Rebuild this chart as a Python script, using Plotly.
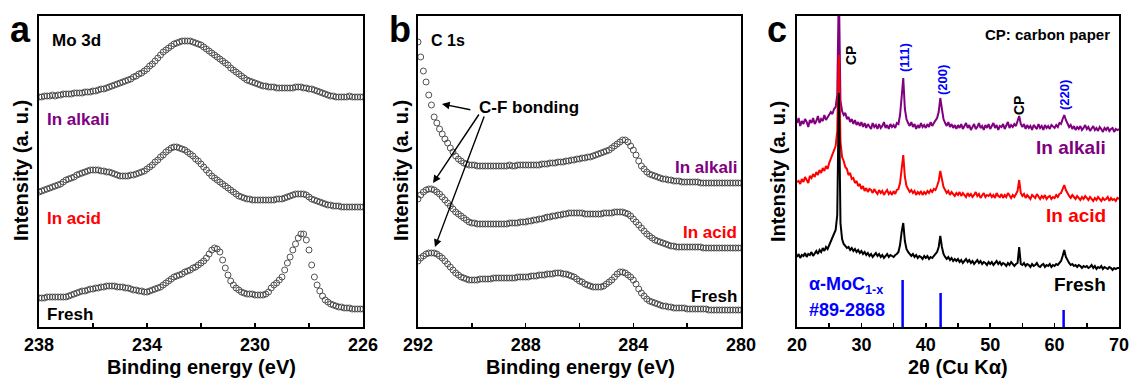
import plotly.graph_objects as go

# ---------------- data ----------------
# Panel a: Mo 3d XPS, binding energy 238 -> 226 eV, step 0.1 eV
be_mo = [round(238.0 - 0.1 * i, 1) for i in range(121)]
mo_alkali = [
    230, 230, 231, 231, 231, 232, 231, 232, 232, 233,
    233, 233, 233, 234, 234, 234, 234, 235, 235, 235,
    236, 236, 237, 238, 238, 239, 240, 241, 242, 243,
    244, 245, 246, 247, 248, 250, 251, 253, 254, 256,
    258, 261, 263, 266, 269, 272, 275, 277, 279, 281,
    283, 284, 285, 286, 286, 286, 286, 285, 284, 283,
    282, 280, 278, 276, 274, 272, 270, 268, 266, 264,
    262, 259, 257, 255, 253, 251, 249, 247, 246, 245,
    244, 243, 242, 241, 241, 240, 240, 240, 239, 239,
    239, 239, 239, 239, 239, 240, 240, 240, 239, 239,
    238, 238, 237, 236, 235, 234, 233, 232, 231, 231,
    230, 230, 230, 230, 230, 231, 230, 230, 230, 230,
    230]
mo_acid = [
    135, 136, 137, 138, 139, 140, 141, 142, 143, 145,
    147, 148, 149, 150, 152, 153, 154, 155, 156, 157,
    157, 157, 157, 156, 156, 155, 155, 154, 153, 152,
    151, 151, 151, 151, 152, 152, 153, 154, 155, 156,
    158, 160, 162, 165, 167, 170, 172, 175, 177, 179,
    180, 180, 179, 178, 177, 175, 173, 171, 168, 166,
    163, 160, 157, 154, 151, 149, 147, 145, 143, 141,
    139, 137, 135, 133, 131, 130, 129, 128, 128, 127,
    127, 127, 127, 127, 127, 127, 127, 127, 128, 128,
    128, 129, 130, 131, 132, 133, 133, 133, 133, 132,
    130, 128, 127, 126, 125, 124, 123, 122, 122, 121,
    121, 121, 120, 120, 120, 120, 120, 120, 120, 120,
    120]
mo_fresh = [
    29, 29, 29, 30, 30, 30, 30, 30, 30, 30,
    30, 31, 32, 33, 34, 35, 36, 36, 37, 38,
    38, 39, 39, 40, 40, 41, 41, 41, 41, 40,
    40, 40, 39, 39, 38, 37, 37, 36, 36, 35,
    35, 36, 37, 38, 39, 40, 42, 44, 46, 48,
    50, 51, 52, 53, 55, 56, 57, 59, 60, 62,
    64, 66, 69, 73, 77, 79, 78, 75, 67, 59,
    52, 46, 42, 39, 37, 35, 34, 33, 33, 33,
    32, 32, 32, 32, 33, 35, 39, 42, 44, 47,
    50, 57, 64, 70, 77, 83, 89, 93, 93, 87,
    77, 62, 50, 42, 36, 31, 27, 25, 23, 22,
    21, 20, 20, 19, 19, 19, 18, 18, 18, 18,
    18]

# Panel b: C 1s XPS, binding energy 292 -> 280 eV, step 0.1 eV
be_c = [round(292.0 - 0.1 * i, 1) for i in range(121)]
c_alkali = [
    285, 270, 256, 245, 232, 222, 210, 204, 198, 193,
    188, 184, 179, 175, 171, 168, 166, 164, 163, 162,
    162, 162, 161, 161, 161, 161, 161, 161, 161, 161,
    161, 161, 161, 161, 162, 161, 161, 162, 162, 162,
    162, 162, 162, 162, 162, 162, 163, 163, 163, 164,
    164, 164, 165, 165, 165, 166, 166, 167, 167, 168,
    168, 169, 169, 170, 170, 171, 172, 173, 174, 175,
    176, 177, 179, 181, 183, 185, 187, 187, 185, 181,
    177, 172, 166, 161, 158, 155, 153, 152, 151, 150,
    149, 148, 148, 147, 147, 146, 146, 146, 145, 145,
    145, 145, 145, 145, 145, 144, 144, 144, 144, 144,
    144, 144, 144, 144, 144, 144, 144, 144, 144, 144,
    144]
c_acid = [
    128, 132, 135, 137, 138, 138, 137, 135, 133, 130,
    127, 124, 121, 118, 115, 113, 111, 109, 107, 105,
    104, 104, 103, 103, 103, 103, 103, 103, 103, 103,
    103, 103, 103, 103, 104, 104, 104, 104, 105, 105,
    105, 106, 106, 107, 107, 108, 108, 109, 110, 110,
    111, 111, 112, 112, 113, 113, 114, 114, 114, 114,
    114, 114, 113, 113, 113, 113, 113, 113, 113, 114,
    114, 114, 114, 115, 115, 115, 115, 114, 113, 111,
    108, 105, 102, 99, 96, 93, 91, 89, 87, 86,
    85, 84, 83, 82, 81, 81, 80, 80, 80, 80,
    80, 80, 80, 80, 80, 80, 79, 79, 79, 79,
    79, 79, 79, 79, 79, 79, 79, 79, 79, 79,
    79]
c_fresh = [
    66, 69, 71, 73, 74, 74, 74, 73, 71, 69,
    66, 63, 60, 57, 54, 52, 50, 49, 48, 47,
    47, 47, 47, 48, 48, 48, 48, 48, 49, 49,
    49, 49, 49, 49, 49, 49, 49, 50, 50, 50,
    50, 50, 51, 51, 51, 52, 52, 52, 53, 53,
    53, 54, 54, 54, 53, 53, 52, 51, 50, 48,
    46, 45, 43, 42, 41, 40, 40, 40, 40, 41,
    43, 45, 47, 50, 53, 55, 55, 54, 52, 50,
    47, 43, 38, 34, 31, 28, 26, 25, 24, 23,
    22, 21, 21, 20, 20, 19, 19, 19, 19, 19,
    18, 18, 18, 18, 18, 18, 18, 18, 17, 17,
    17, 17, 17, 17, 17, 17, 17, 17, 17, 17,
    17]

# Panel c: XRD, 2theta 20 -> 70 deg, step 0.25 deg
two_theta = [20.0 + 0.25 * i for i in range(201)]
xrd_alkali = [
    204, 209, 201, 206, 203, 208, 205, 200, 207, 204, 209, 203, 206, 211, 204, 208, 206, 212, 207, 210,
    212, 215, 213, 218, 220, 232, 340, 226, 216, 212, 214, 208, 210, 205, 208, 203, 207, 202, 205, 201,
    205, 200, 204, 199, 203, 201, 198, 204, 200, 202, 198, 203, 199, 201, 205, 199, 202, 198, 203, 200,
    202, 199, 204, 203, 212, 230, 249, 218, 208, 204, 201, 205, 200, 203, 198, 202, 199, 204, 200, 202,
    199, 203, 200, 205, 201, 204, 206, 209, 215, 229, 218, 208, 204, 201, 205, 200, 203, 199, 202, 198,
    202, 199, 203, 198, 201, 204, 199, 202, 197, 201, 203, 198, 200, 204, 199, 201, 197, 202, 199, 203,
    198, 201, 204, 199, 202, 197, 201, 200, 203, 198, 201, 205, 199, 202, 200, 203, 201, 205, 211, 203,
    200, 203, 198, 202, 199, 201, 197, 202, 200, 198, 203, 199, 201, 197, 202, 199, 201, 198, 202, 200,
    199, 202, 200, 204, 203, 208, 212, 207, 204, 200, 202, 198, 201, 197, 200, 198, 201, 197, 199, 202,
    198, 200, 196, 199, 201, 197, 199, 196, 200, 198, 195, 199, 197, 200, 196, 198, 199, 195, 198, 197,
    198]
xrd_acid = [
    145, 146, 143, 148, 145, 150, 147, 144, 151, 149, 153, 150, 155, 152, 157, 154, 159, 156, 161, 158,
    164, 168, 172, 176, 181, 196, 272, 185, 170, 166, 160, 158, 152, 154, 148, 149, 144, 146, 141, 143,
    138, 141, 136, 139, 135, 138, 137, 134, 138, 135, 133, 137, 134, 136, 132, 135, 137, 133, 135, 132,
    136, 133, 137, 138, 144, 158, 172, 150, 141, 138, 135, 137, 134, 136, 132, 135, 133, 136, 132, 135,
    133, 136, 134, 137, 135, 138, 137, 141, 146, 156, 147, 140, 137, 134, 136, 132, 135, 133, 131, 134,
    132, 135, 131, 134, 132, 130, 134, 131, 133, 130, 132, 135, 131, 133, 129, 132, 134, 130, 132, 131,
    133, 130, 132, 129, 134, 131, 130, 133, 129, 132, 130, 134, 131, 129, 132, 130, 133, 136, 147, 134,
    131, 133, 129, 132, 130, 128, 132, 130, 129, 133, 130, 128, 131, 129, 132, 128, 130, 131, 128, 130,
    129, 132, 130, 133, 134, 138, 142, 137, 133, 131, 129, 132, 130, 128, 131, 129, 127, 130, 128, 131,
    129, 127, 130, 128, 126, 129, 127, 130, 128, 126, 129, 127, 128, 130, 126, 129, 127, 128, 126, 129,
    128]
xrd_fresh = [
    70, 73, 69, 72, 71, 74, 70, 73, 72, 75, 71, 74, 76, 73, 77, 75, 79, 76, 80, 78,
    82, 85, 88, 92, 97, 112, 234, 104, 88, 83, 81, 79, 80, 77, 79, 76, 78, 75, 77, 74,
    76, 73, 75, 72, 74, 71, 73, 70, 72, 74, 71, 73, 70, 72, 69, 71, 73, 70, 72, 71,
    70, 72, 73, 75, 82, 95, 104, 86, 78, 75, 73, 71, 73, 70, 72, 69, 71, 70, 68, 71,
    69, 71, 68, 70, 69, 71, 72, 75, 80, 91, 80, 73, 70, 68, 70, 67, 69, 66, 68, 66,
    68, 65, 67, 64, 66, 68, 65, 67, 64, 66, 63, 65, 67, 64, 66, 63, 65, 64, 62, 65,
    63, 65, 62, 64, 66, 63, 65, 62, 64, 63, 61, 64, 62, 65, 63, 61, 63, 64, 80, 63,
    62, 64, 61, 63, 62, 60, 63, 61, 62, 64, 61, 60, 62, 63, 60, 62, 61, 63, 60, 62,
    61, 63, 62, 64, 66, 71, 77, 70, 66, 64, 62, 63, 61, 62, 60, 62, 61, 59, 61, 60,
    61, 59, 60, 62, 59, 61, 58, 60, 59, 61, 58, 60, 59, 58, 60, 59, 57, 59, 58, 59,
    59]

# alpha-MoC1-x reference pattern (#89-2868)
ref_pos = [36.4, 42.3, 61.4]
ref_int = [47, 34, 17]

mo_ticks = [238, 234, 230, 226]
mo_minor = [236, 232, 228]
c_ticks = [292, 288, 284, 280]
c_minor = [290, 286, 282]
xrd_ticks = [20, 30, 40, 50, 60, 70]
xrd_minor = [25, 35, 45, 55, 65]

# ---------------- figure ----------------
W, H = 1133, 381
FONT = "Liberation Sans, Arial, sans-serif"
PURPLE = "#800080"
RED = "#ff0000"
BLUE = "#0000ff"
MK = "#404040"

def fit(x, y):
    n = min(len(x), len(y))
    return x[:n], y[:n]

fig = go.Figure()

def xps(x, y, xa, ya):
    x, y = fit(x, y)
    fig.add_trace(go.Scatter(x=x, y=y, mode="markers", xaxis=xa, yaxis=ya,
                             marker=dict(symbol="circle-open", size=6, color=MK,
                                         line=dict(width=0.9, color=MK)),
                             showlegend=False, hoverinfo="skip"))

for ys in (mo_alkali, mo_acid, mo_fresh):
    xps(be_mo, ys, "x", "y")
for ys in (c_alkali, c_acid, c_fresh):
    xps(be_c, ys, "x2", "y2")

for ys, col in ((xrd_alkali, PURPLE), (xrd_acid, RED), (xrd_fresh, "black")):
    x, y = fit(two_theta, ys)
    fig.add_trace(go.Scatter(x=x, y=y, mode="lines", xaxis="x3", yaxis="y3",
                             line=dict(color=col, width=2.0), showlegend=False,
                             hoverinfo="skip"))

# reference sticks
sx, sy = [], []
for p, h in zip(ref_pos, ref_int):
    sx += [p, p, None]
    sy += [0, h, None]
fig.add_trace(go.Scatter(x=sx, y=sy, mode="lines", xaxis="x3", yaxis="y3",
                         line=dict(color=BLUE, width=2.5), showlegend=False,
                         hoverinfo="skip"))

doms = [(39, 363), (418, 741), (797, 1119)]
ydom = [1 - 327 / H, 1 - 16 / H]

axis_common = dict(showline=True, linewidth=2, linecolor="black", mirror=True,
                   showgrid=False, zeroline=False, automargin=False)
tickfont = dict(family=FONT, size=18, color="black", weight="bold")

xcfg = [
    dict(range=[238, 226], tickvals=mo_ticks, minor=dict(tickvals=mo_minor, ticks="inside",
                                                          ticklen=4, tickwidth=1.5, tickcolor="black", showgrid=False)),
    dict(range=[292, 280], tickvals=c_ticks, minor=dict(tickvals=c_minor, ticks="inside",
                                                         ticklen=4, tickwidth=1.5, tickcolor="black", showgrid=False)),
    dict(range=[20, 70], tickvals=xrd_ticks, minor=dict(tickvals=xrd_minor, ticks="inside",
                                                         ticklen=4, tickwidth=1.5, tickcolor="black", showgrid=False)),
]
layout = {}
for i, (d, xc) in enumerate(zip(doms, xcfg)):
    sfx = "" if i == 0 else str(i + 1)
    layout["xaxis" + sfx] = dict(domain=[d[0] / W, d[1] / W], anchor="y" + sfx,
                                 ticks="inside", ticklen=4, tickwidth=1.5, tickcolor="black",
                                 tickmode="array", tickfont=tickfont, **axis_common, **xc)
    layout["yaxis" + sfx] = dict(domain=ydom, anchor="x" + sfx, range=[0, 311],
                                 showticklabels=False, ticks="", **axis_common)

fig.update_layout(template="none", width=W, height=H,
                  margin=dict(l=0, r=0, t=0, b=0, pad=0, autoexpand=False), autosize=False,
                  paper_bgcolor="white", plot_bgcolor="white", showlegend=False, **layout)

anns = []

def ann(text, px, py, size, color="black", xanchor="center", angle=0):
    anns.append(dict(text=text, x=px / W, y=1 - py / H, xref="paper", yref="paper",
                     xanchor=xanchor, yanchor="middle", showarrow=False, textangle=angle,
                     font=dict(family=FONT, size=size, color=color, weight="bold")))

# panel letters
ann("a", 20, 30, 36)
ann("b", 400, 29, 36)
ann("c", 777, 30, 36)
# axis titles
for cx in (201, 580):
    ann("Binding energy (eV)", cx, 367, 20)
ann("2θ (Cu Kα)", 958, 367, 20)
for cx in (21, 401, 778):
    ann("Intensity (a. u.)", cx, 171, 20, angle=-90)
# panel a
ann("Mo 3d", 50, 41, 17, xanchor="left")
ann("In alkali", 45, 119, 17, PURPLE, xanchor="left")
ann("In acid", 45, 218, 17, RED, xanchor="left")
ann("Fresh", 45, 314, 17, xanchor="left")
# panel b
ann("C 1s", 429, 41, 16, xanchor="left")
ann("In alkali", 739, 167, 17, PURPLE, xanchor="right")
ann("In acid", 739, 233, 17, RED, xanchor="right")
ann("Fresh", 739, 296, 17, xanchor="right")
ann("C-F bonding", 477, 108, 17, xanchor="left")
# panel c
ann("CP: carbon paper", 1112, 35, 15, xanchor="right")
ann("In alkali", 1108, 147, 19, PURPLE, xanchor="right")
ann("In acid", 1108, 215, 19, RED, xanchor="right")
ann("Fresh", 1108, 284, 19, xanchor="right")
ann("α-MoC<sub>1-x</sub>", 807, 285, 18, BLUE, xanchor="left")
ann("#89-2868", 807, 310, 18, BLUE, xanchor="left")
ann("CP", 851, 56, 14, angle=-90)
ann("(111)", 904, 58, 13, BLUE, angle=-90)
ann("(200)", 942, 80, 13, BLUE, angle=-90)
ann("CP", 1019, 106, 14, angle=-90)
ann("(220)", 1064, 95, 13, BLUE, angle=-90)

# C-F bonding arrows (axis coordinates of panel b)
arrows = [((290.0, 217), (291.11, 223)),
          ((289.70, 214), (291.44, 144)),
          ((289.52, 212), (291.37, 80))]
for (tx, ty), (hx, hy) in arrows:
    anns.append(dict(x=hx, y=hy, ax=tx, ay=ty, xref="x2", yref="y2", axref="x2", ayref="y2",
                     text="", showarrow=True, arrowhead=2, arrowsize=1.1, arrowwidth=1.4,
                     arrowcolor="black"))

fig.update_layout(annotations=anns)
fig.write_html("out.html", config={"displayModeBar": False, "staticPlot": True},
               post_script="document.body.style.margin='0px';"
                           "document.body.style.padding='0px';"
                           "document.body.style.overflow='hidden';")
